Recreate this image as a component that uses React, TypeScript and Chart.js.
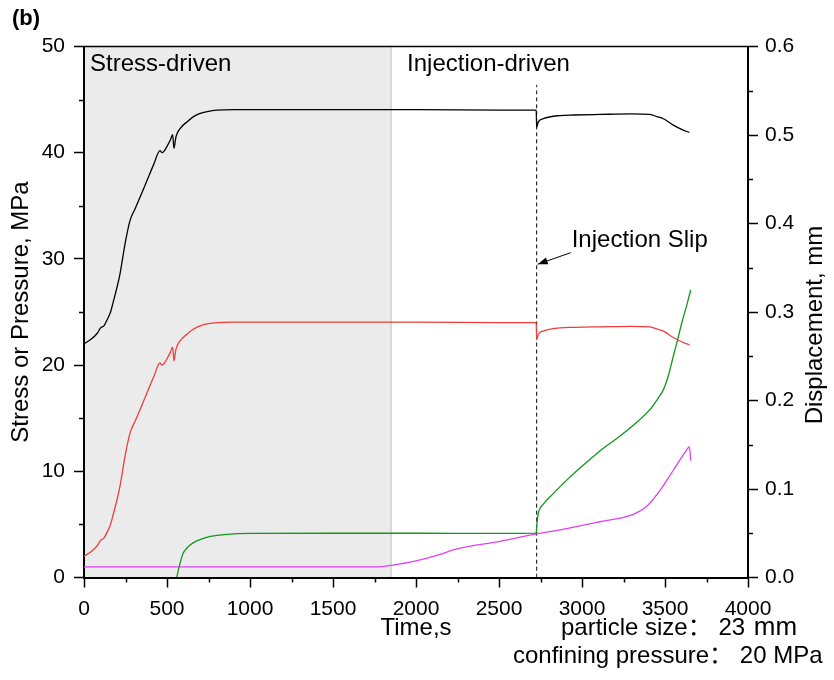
import React, { useEffect, useRef } from 'react';
import { Chart, registerables } from 'chart.js';

Chart.register(...registerables);

// ---- data ----
const timeStress = [0, 40, 80, 100, 120, 137, 160, 177, 200, 217, 247, 277, 310, 340, 380, 420, 458, 470, 480, 500, 520, 534, 542, 554, 580, 620, 660, 700, 750, 800, 900, 1000, 1500, 2000, 2500, 2724, 2727, 2737, 2767, 2867, 2950, 3108, 3300, 3410, 3450, 3490, 3550, 3600, 3647];
const axialStress = [22.0, 22.4, 23.0, 23.5, 23.7, 24.2, 25.0, 26.0, 27.4, 28.6, 31.4, 33.6, 34.8, 35.9, 37.4, 38.9, 40.2, 40.0, 40.1, 40.6, 41.2, 41.7, 40.4, 41.5, 42.3, 42.9, 43.4, 43.7, 43.9, 44.0, 44.05, 44.05, 44.05, 44.05, 44.0, 44.0, 42.4, 42.9, 43.2, 43.5, 43.55, 43.6, 43.65, 43.6, 43.4, 43.2, 42.6, 42.2, 41.9];
const diffStress = [2.0, 2.4, 3.0, 3.5, 3.7, 4.2, 5.0, 6.0, 7.4, 8.6, 11.4, 13.6, 14.8, 15.9, 17.4, 18.9, 20.2, 20.0, 20.1, 20.6, 21.2, 21.7, 20.4, 21.5, 22.3, 22.9, 23.4, 23.7, 23.9, 24.0, 24.05, 24.05, 24.05, 24.05, 24.0, 24.0, 22.4, 22.9, 23.2, 23.5, 23.55, 23.6, 23.65, 23.6, 23.4, 23.2, 22.6, 22.2, 21.9];

const timeDisp = [558, 578, 598, 619, 639, 679, 739, 800, 860, 1000, 1500, 2000, 2500, 2724, 2728, 2737, 2767, 2827, 2908, 3008, 3108, 3209, 3309, 3410, 3460, 3490, 3520, 3550, 3575, 3600, 3630, 3655];
const displacement = [0.0, 0.0156, 0.0276, 0.033, 0.0367, 0.0413, 0.0454, 0.0475, 0.0488, 0.0498, 0.050, 0.050, 0.0499, 0.0502, 0.060, 0.0726, 0.0828, 0.0948, 0.110, 0.127, 0.143, 0.157, 0.172, 0.190, 0.203, 0.212, 0.228, 0.250, 0.268, 0.287, 0.307, 0.325];

const timePressure = [0, 500, 1000, 1500, 1770, 1850, 1950, 2050, 2150, 2235, 2506, 2725, 2908, 3108, 3309, 3390, 3470, 3550, 3630, 3647, 3655];
const injPressure = [1.0, 1.0, 1.0, 1.0, 1.0, 1.15, 1.4, 1.75, 2.2, 2.65, 3.4, 4.1, 4.6, 5.25, 5.95, 6.7, 8.2, 10.1, 12.0, 12.3, 11.0];

const slipTime = 2727;
const slipLineTop = 46.4;
const shadeEnd = 1850;

const xMin = 0, xMax = 4000, xStep = 500;
const yMin = 0, yMax = 50, yStep = 10;
const y1Min = 0, y1Max = 0.6, y1Step = 0.1;

const FAMILY = "'Liberation Sans', Arial, 'Noto Sans CJK SC', sans-serif";

const decor = {
  id: 'decor',
  beforeDraw(chart: any) {
    const { ctx, chartArea: a, scales } = chart;
    const xe = scales.x.getPixelForValue(shadeEnd);
    ctx.save();
    ctx.fillStyle = '#ebebeb';
    ctx.fillRect(a.left, a.top, xe - a.left, a.bottom - a.top);
    ctx.strokeStyle = '#c8c8c8';
    ctx.lineWidth = 1.2;
    ctx.beginPath();
    ctx.moveTo(xe, a.top);
    ctx.lineTo(xe, a.bottom);
    ctx.stroke();
    ctx.restore();
  },
  afterDraw(chart: any) {
    const { ctx, chartArea: a, scales } = chart;
    const { x, y, y1 } = scales;
    ctx.save();
    // top frame
    ctx.strokeStyle = '#000';
    ctx.lineWidth = 1.5;
    ctx.beginPath();
    ctx.moveTo(a.left - 1, a.top);
    ctx.lineTo(a.right + 1, a.top);
    ctx.stroke();
    // minor ticks
    ctx.lineWidth = 1.5;
    ctx.beginPath();
    for (let v = xMin + xStep / 2; v < xMax; v += xStep) {
      const px = Math.round(x.getPixelForValue(v)) + 0.5;
      ctx.moveTo(px, a.bottom);
      ctx.lineTo(px, a.bottom + 5);
    }
    for (let v = yMin + yStep / 2; v < yMax; v += yStep) {
      const py = Math.round(y.getPixelForValue(v)) + 0.5;
      ctx.moveTo(a.left - 5, py);
      ctx.lineTo(a.left, py);
    }
    for (let v = y1Min + y1Step / 2; v < y1Max; v += y1Step) {
      const py = Math.round(y1.getPixelForValue(v)) + 0.5;
      ctx.moveTo(a.right, py);
      ctx.lineTo(a.right + 5, py);
    }
    ctx.stroke();

    ctx.fillStyle = '#000';
    ctx.textBaseline = 'alphabetic';
    ctx.textAlign = 'left';
    // panel label
    ctx.font = `bold 22px ${FAMILY}`;
    ctx.fillText('(b)', 12, 25);
    // region labels
    ctx.font = `24px ${FAMILY}`;
    ctx.fillText('Stress-driven', a.left + 6, a.top + 24);
    ctx.fillText('Injection-driven', x.getPixelForValue(shadeEnd) + 16, a.top + 24);
    // slip annotation
    const tipX = x.getPixelForValue(slipTime) + 1;
    const tipY = y.getPixelForValue(29.5);
    const sx = tipX + 33, sy = tipY - 11.5;
    ctx.fillText('Injection Slip', sx + 1, sy - 6);
    ctx.strokeStyle = '#000';
    ctx.lineWidth = 1;
    ctx.beginPath();
    ctx.moveTo(sx, sy);
    ctx.lineTo(tipX, tipY);
    ctx.stroke();
    const ang = Math.atan2(tipY - sy, tipX - sx);
    const L = 10, W = 3.5;
    ctx.beginPath();
    ctx.moveTo(tipX, tipY);
    ctx.lineTo(tipX - L * Math.cos(ang) + W * Math.sin(ang), tipY - L * Math.sin(ang) - W * Math.cos(ang));
    ctx.lineTo(tipX - L * Math.cos(ang) - W * Math.sin(ang), tipY - L * Math.sin(ang) + W * Math.cos(ang));
    ctx.closePath();
    ctx.fill();
    // right axis title
    ctx.save();
    ctx.translate(a.right + 67, 325);
    ctx.rotate(-Math.PI / 2);
    ctx.textAlign = 'center';
    ctx.textBaseline = 'middle';
    ctx.fillText('Displacement, mm', 0, 0);
    ctx.restore();
    // test conditions
    ctx.textAlign = 'left';
    const line1 = 'particle size： 23 ';
    ctx.fillText(line1, 561, 635);
    const w1 = ctx.measureText(line1).width;
    ctx.font = `26px ${FAMILY}`;
    ctx.fillText('mm', 561 + w1 + 2, 635);
    ctx.font = `24px ${FAMILY}`;
    ctx.fillText('confining pressure： 20 MPa', 513, 663);
    ctx.restore();
  },
};

const pts = (xs: number[], ys: number[]) => xs.map((t, i) => ({ x: t, y: ys[i] }));

export default function App() {
  const ref = useRef<HTMLCanvasElement | null>(null);
  useEffect(() => {
    if (!ref.current) return;
    const tickFont = { family: FAMILY, size: 21 };
    const titleFont = { family: FAMILY, size: 24 };
    const chart = new Chart(ref.current, {
      type: 'line',
      data: {
        datasets: [
          { label: 'Axial stress', data: pts(timeStress, axialStress), borderColor: '#000000', yAxisID: 'y' },
          { label: 'Differential stress', data: pts(timeStress, diffStress), borderColor: '#f03c3c', yAxisID: 'y' },
          { label: 'Displacement', data: pts(timeDisp, displacement), borderColor: '#14961a', yAxisID: 'y1' },
          { label: 'Injection pressure', data: pts(timePressure, injPressure), borderColor: '#e040f5', yAxisID: 'y' },
          {
            label: 'Injection slip',
            data: [{ x: slipTime, y: 0 }, { x: slipTime, y: slipLineTop }],
            borderColor: '#000000',
            borderWidth: 1,
            borderDash: [4, 3],
            yAxisID: 'y',
          },
        ],
      } as any,
      options: {
        responsive: false,
        animation: false,
        devicePixelRatio: 1,
        layout: { padding: { top: 46.5, left: 0, right: 0, bottom: 0 } },
        elements: {
          point: { radius: 0 },
          line: { borderWidth: 1.3, cubicInterpolationMode: 'monotone', fill: false },
        },
        plugins: { legend: { display: false }, tooltip: { enabled: false } },
        scales: {
          x: {
            type: 'linear',
            min: xMin,
            max: xMax,
            ticks: { stepSize: xStep, callback: (v: any) => String(v), font: tickFont, color: '#000', padding: 9, maxRotation: 0, autoSkip: false },
            grid: { drawOnChartArea: false, drawTicks: true, tickLength: 10, tickColor: '#000', tickWidth: 1.5 },
            border: { color: '#000', width: 2 },
            title: { display: true, text: 'Time,s', font: titleFont, color: '#000', padding: { top: 0, bottom: 37 } },
            afterFit: (s: any) => { s.height = 102.5; },
          },
          y: {
            position: 'left',
            min: yMin,
            max: yMax,
            ticks: { stepSize: yStep, callback: (v: any) => String(v), font: tickFont, color: '#000', padding: 9 },
            grid: { drawOnChartArea: false, drawTicks: true, tickLength: 10, tickColor: '#000', tickWidth: 1.5 },
            border: { color: '#000', width: 2 },
            title: { display: true, text: 'Stress or Pressure, MPa', font: titleFont, color: '#000', padding: { top: 7, bottom: 0 } },
            afterFit: (s: any) => { s.width = 84; },
          },
          y1: {
            position: 'right',
            min: y1Min,
            max: y1Max,
            ticks: { stepSize: y1Step, callback: (v: any) => Number(v).toFixed(1), font: tickFont, color: '#000', padding: 7 },
            grid: { drawOnChartArea: false, drawTicks: true, tickLength: 10, tickColor: '#000', tickWidth: 1.5 },
            border: { color: '#000', width: 2 },
            afterFit: (s: any) => { s.width = 86; },
          },
        },
      } as any,
      plugins: [decor],
    });
    return () => chart.destroy();
  }, []);
  return (
    <div style={{ position: 'fixed', left: 0, top: 0, width: 834, height: 680, background: '#fff' }}>
      <canvas ref={ref} width={834} height={680} style={{ display: 'block' }} />
    </div>
  );
}
